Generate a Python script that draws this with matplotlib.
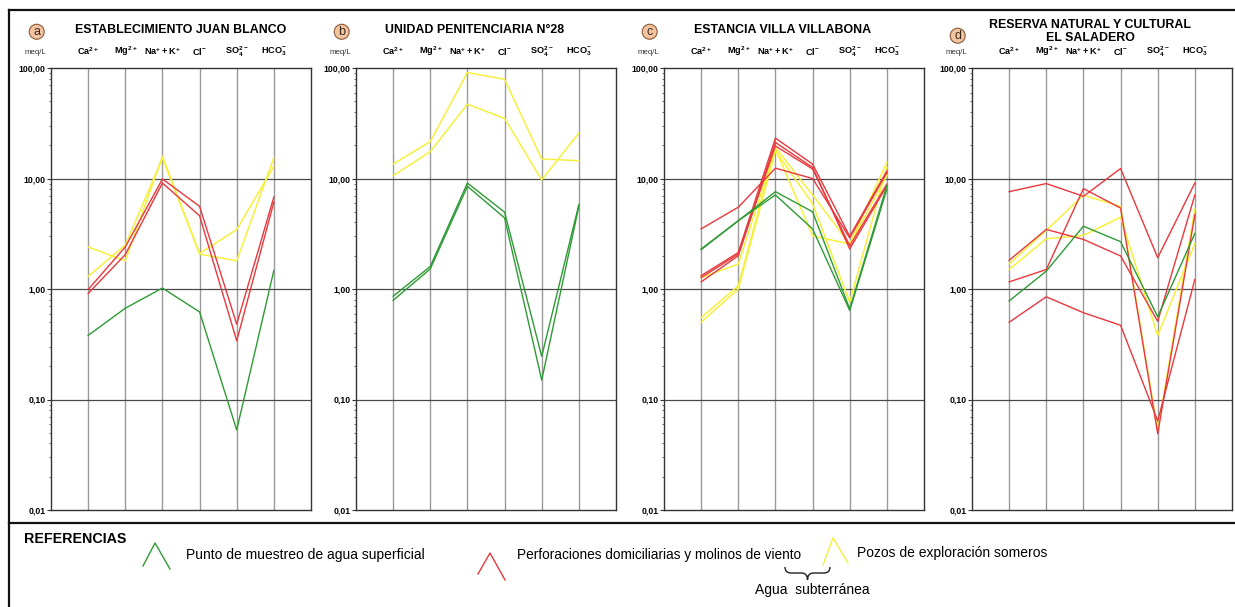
import matplotlib
matplotlib.use("Agg")
import matplotlib.pyplot as plt
from matplotlib.lines import Line2D
from matplotlib.path import Path
from matplotlib.patches import PathPatch
from matplotlib.ticker import FixedLocator, FuncFormatter, LogLocator, NullFormatter

plt.rcParams["font.family"] = ["Liberation Sans", "DejaVu Sans"]
plt.rcParams["mathtext.fontset"] = "custom"
plt.rcParams["mathtext.rm"] = "Liberation Sans"
plt.rcParams["mathtext.bf"] = "Liberation Sans:bold"

# iones (eje x)
ions = [r"$\mathbf{Ca^{2+}}$", r"$\mathbf{Mg^{2+}}$", r"$\mathbf{Na^{+}+K^{+}}$",
        r"$\mathbf{Cl^{-}}$", r"$\mathbf{SO_4^{2-}}$", r"$\mathbf{HCO_3^{-}}$"]
ytick_vals = [0.01, 0.1, 1, 10, 100]
ytick_labels = ["0,01", "0,10", "1,00", "10,00", "100,00"]

titles = ["ESTABLECIMIENTO JUAN BLANCO", "UNIDAD PENITENCIARIA N°28",
          "ESTANCIA VILLA VILLABONA", "RESERVA NATURAL Y CULTURAL\nEL SALADERO"]
letters = ["a", "b", "c", "d"]

# meq/L  -> Ca, Mg, Na+K, Cl, SO4, HCO3
a_green = [[0.38, 0.67, 1.02, 0.62, 0.053, 1.47]]
a_red = [[0.99, 2.4, 9.9, 5.6, 0.48, 6.8],
         [0.91, 2.05, 9.1, 4.6, 0.34, 6.1]]
a_yellow = [[2.4, 1.8, 15.9, 2.07, 1.8, 15.4],
            [1.3, 2.5, 15.3, 2.1, 3.45, 12.9]]

b_green = [[0.86, 1.6, 9.1, 4.96, 0.246, 5.8],
           [0.79, 1.52, 8.5, 4.4, 0.15, 5.6]]
b_red = []
b_yellow = [[13.5, 21.6, 91, 79, 15.0, 14.5],
            [10.6, 17.5, 47, 35, 9.7, 25.7]]

c_green = [[2.3, 4.15, 7.6, 5.0, 0.66, 8.6],
           [2.27, 4.15, 7.1, 3.5, 0.64, 8.0]]
c_red = [[3.5, 5.5, 12.4, 10.0, 2.9, 11.3],
         [1.32, 2.14, 23.2, 13.5, 3.0, 11.7],
         [1.16, 2.0, 21.2, 12.6, 2.3, 8.6],
         [1.27, 2.07, 19.7, 12.2, 2.46, 8.9]]
c_yellow = [[0.55, 1.07, 19.0, 7.1, 2.55, 14.0],
            [0.50, 1.0, 17.8, 5.9, 0.76, 12.6],
            [1.27, 1.68, 18.5, 3.03, 2.55, 10.6]]

d_green = [[0.78, 1.45, 3.7, 2.68, 0.56, 3.18]]
d_red = [[7.6, 9.0, 6.9, 12.3, 1.92, 9.1],
         [1.82, 3.46, 2.81, 1.99, 0.51, 7.1],
         [1.16, 1.5, 8.1, 5.4, 0.049, 4.7],
         [0.50, 0.85, 0.61, 0.47, 0.064, 1.22]]
d_yellow = [[1.69, 3.4, 7.06, 5.6, 0.052, 5.3],
            [1.5, 2.85, 3.05, 4.47, 0.38, 2.58]]

panels = [(a_green, a_red, a_yellow), (b_green, b_red, b_yellow),
          (c_green, c_red, c_yellow), (d_green, d_red, d_yellow)]

GREEN = "#2f9a35"
RED = "#e8383d"
YELLOW = "#f6f03e"

W, H = 1235, 607
fig = plt.figure(figsize=(W / 100, H / 100), dpi=100)


def px(x, y):
    return x / W, 1 - y / H


ax_lefts = [51, 356, 664, 972]
ax_w, ax_top, ax_bot = 260, 68, 510
title_dx = [0.5, 0.455, 0.455, 0.455]

for i, (greens, reds, yellows) in enumerate(panels):
    l = ax_lefts[i]
    ax = fig.add_axes([l / W, 1 - ax_bot / H, ax_w / W, (ax_bot - ax_top) / H])
    ax.set_yscale("log")
    ax.set_ylim(0.01, 100)
    ax.set_xlim(0, 7)
    xs = list(range(1, 7))
    for xv in xs:
        ax.axvline(xv, color="#9a9a9a", lw=1.0, zorder=0)
    for yv in [0.1, 1, 10]:
        ax.axhline(yv, color="#4a4a4a", lw=0.9, zorder=0)
    for s in yellows:
        ax.plot(xs, s, color=YELLOW, lw=1.1, zorder=2)
    for s in reds:
        ax.plot(xs, s, color=RED, lw=1.0, zorder=3)
    for s in greens:
        ax.plot(xs, s, color=GREEN, lw=1.0, zorder=4)

    ax.set_xticks([])
    ax.yaxis.set_major_locator(FixedLocator(ytick_vals))
    ax.yaxis.set_major_formatter(FuncFormatter(lambda v, p: ytick_labels[ytick_vals.index(v)] if v in ytick_vals else ""))
    ax.yaxis.set_minor_locator(LogLocator(base=10, subs=range(2, 10)))
    ax.yaxis.set_minor_formatter(NullFormatter())
    ax.tick_params(axis="y", which="major", length=3, width=0.8, labelsize=6.2, pad=1, color="#333333")
    ax.tick_params(axis="y", which="minor", length=1.8, width=0.6, color="#555555")
    for lab in ax.get_yticklabels():
        lab.set_fontweight("bold")
    for sp in ax.spines.values():
        sp.set_color("#333333")
        sp.set_linewidth(1.0)

    # etiquetas de iones
    for xv, name in zip(xs, ions):
        ax.text(xv, 1.037, name, transform=ax.get_xaxis_transform(),
                ha="center", va="center", fontsize=6.6)
    ax.text(-0.062, 1.034, "meq/L", transform=ax.transAxes, ha="center",
            va="center", fontsize=5.6, color="#333333")
    ty = 1.085 if i < 3 else 1.083
    ax.text(title_dx[i], ty, titles[i], transform=ax.transAxes, ha="center",
            va="center", fontsize=8.9, fontweight="bold", linespacing=1.05)
    cy = 1.082 if i < 3 else 1.073
    ax.text(-0.055, cy, letters[i], transform=ax.transAxes, ha="center",
            va="center", fontsize=9, color="#3a2a20",
            bbox=dict(boxstyle="circle,pad=0.12", fc="#f4c4a0", ec="#8a5a3a", lw=0.8))

# marco general
frame = dict(color="#111111", lw=1.6, transform=fig.transFigure)
fig.add_artist(Line2D(*zip(px(9, 10), px(W, 10)), **frame))
fig.add_artist(Line2D(*zip(px(9, 10), px(9, H)), **frame))
fig.add_artist(Line2D(*zip(px(9, 523), px(W, 523)), **frame))

# referencias
fig.text(*px(24, 539), "REFERENCIAS", fontsize=10.3, fontweight="bold", va="center")


def caret(pts, color):
    xs_, ys_ = zip(*[px(x, y) for x, y in pts])
    fig.add_artist(Line2D(xs_, ys_, color=color, lw=1.0, transform=fig.transFigure))


caret([(143, 566), (155, 543), (170, 569)], GREEN)
caret([(478, 574), (490, 553), (505, 580)], RED)
caret([(823, 565), (833, 538), (848, 563)], YELLOW)
fig.text(*px(186, 555), "Punto de muestreo de agua superficial", fontsize=10, va="center")
fig.text(*px(517, 555), "Perforaciones domiciliarias y molinos de viento", fontsize=9.8, va="center")
fig.text(*px(857, 553), "Pozos de exploración someros", fontsize=10, va="center")
fig.text(*px(812, 590), "Agua  subterránea", fontsize=10, va="center", ha="center")

# llave
x0, x1, xm = 785, 830, 807.5
yt, ym, yb = 567, 573, 580
verts = [(x0, yt), (x0, ym), (x0 + 6, ym), (xm - 6, ym), (xm, ym), (xm, yb),
         (xm, ym), (xm + 6, ym), (x1 - 6, ym), (x1, ym), (x1, yt)]
codes = [Path.MOVETO, Path.CURVE3, Path.CURVE3, Path.LINETO, Path.CURVE3, Path.CURVE3,
         Path.CURVE3, Path.CURVE3, Path.LINETO, Path.CURVE3, Path.CURVE3]
brace = Path([px(x, y) for x, y in verts], codes)
fig.add_artist(PathPatch(brace, fill=False, lw=1.0, ec="#222222", transform=fig.transFigure))

fig.savefig("out.png", dpi=100)
